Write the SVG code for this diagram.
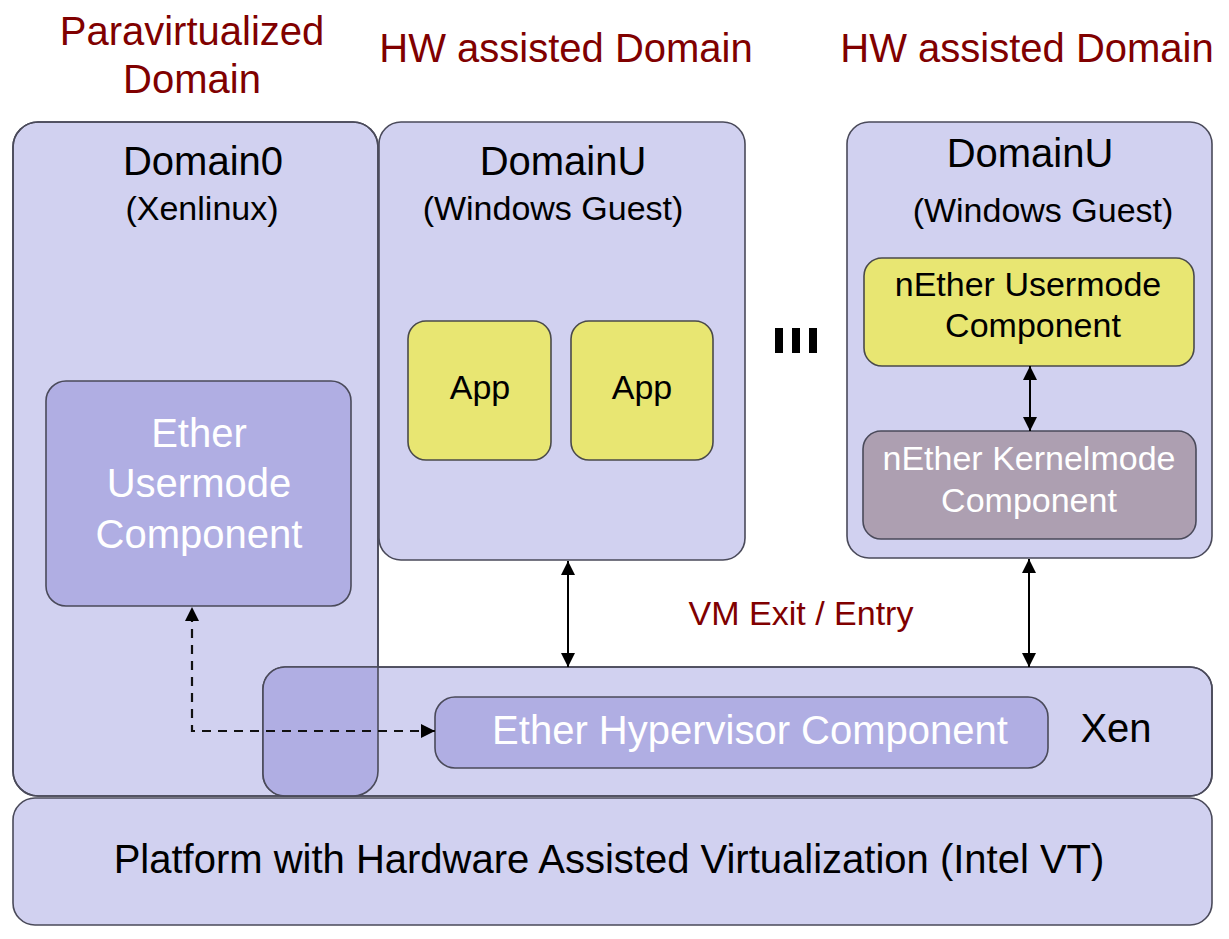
<svg xmlns="http://www.w3.org/2000/svg" width="1229" height="939" viewBox="0 0 1229 939">
<style>
.box{fill:#d1d1f0;stroke:#4a4a5a;stroke-width:1.6}
.dark{fill:#b0aee3;stroke:#4a4a5a;stroke-width:1.6}
.yel{fill:#e8e672;stroke:#4a4a4a;stroke-width:1.6}
.kern{fill:#ad9fb1;stroke:#4a4a5a;stroke-width:1.6}
.outline{fill:none;stroke:#4a4a5a;stroke-width:1.6}
text{font-family:"Liberation Sans",Arial,sans-serif;text-anchor:middle}
.title{font-size:40px;fill:#800000}
.big{font-size:40px;fill:#000}
.med{font-size:34px;fill:#000}
.white{fill:#ffffff}
.conn{stroke:#000;stroke-width:2;fill:none}
.dash{stroke:#111;stroke-width:2.2;fill:none;stroke-dasharray:9,7}
</style>
<defs>
<marker id="ah" viewBox="0 0 14 20" refX="14" refY="10" markerWidth="14" markerHeight="20" markerUnits="userSpaceOnUse" orient="auto-start-reverse">
<path d="M0,3 L14,10 L0,17 Z" fill="#000"/>
</marker>
<clipPath id="d0clip"><rect x="13" y="122" width="365" height="674" rx="25"/></clipPath>
</defs>

<g id="titles">
<text class="title" x="192" y="45">Paravirtualized</text>
<text class="title" x="192" y="93">Domain</text>
<text class="title" x="566" y="62">HW assisted Domain</text>
<text class="title" x="1027" y="62">HW assisted Domain</text>
</g>

<g id="domain0">
<rect class="box" x="13" y="122" width="365" height="674" rx="25"/>
<text class="big" x="203" y="175">Domain0</text>
<text class="med" x="202" y="220">(Xenlinux)</text>
</g>

<g id="ether-usermode">
<rect class="dark" x="46" y="381" width="305" height="225" rx="20"/>
<text class="big white" x="199" y="447">Ether</text>
<text class="big white" x="199" y="497">Usermode</text>
<text class="big white" x="199" y="548">Component</text>
</g>

<g id="domainU1">
<rect class="box" x="379" y="122" width="366" height="438" rx="22"/>
<text class="big" x="563" y="175">DomainU</text>
<text class="med" x="553" y="220">(Windows Guest)</text>
</g>

<g id="app1">
<rect class="yel" x="408" y="321" width="143" height="139" rx="18"/>
<text class="med" x="480" y="399">App</text>
</g>
<g id="app2">
<rect class="yel" x="571" y="321" width="142" height="139" rx="18"/>
<text class="med" x="642" y="399">App</text>
</g>

<g id="ellipsis">
<rect x="775" y="328" width="8" height="25" fill="#000"/>
<rect x="792" y="328" width="8" height="25" fill="#000"/>
<rect x="809" y="328" width="8" height="25" fill="#000"/>
</g>

<g id="domainU2">
<rect class="box" x="847" y="122" width="365" height="436" rx="22"/>
<text class="big" x="1030" y="167">DomainU</text>
<text class="med" x="1043" y="222">(Windows Guest)</text>
</g>

<g id="nether-user">
<rect class="yel" x="864" y="258" width="330" height="108" rx="18"/>
<text class="med" x="1028" y="296">nEther Usermode</text>
<text class="med" x="1033" y="337">Component</text>
</g>

<g id="nether-kernel">
<rect class="kern" x="863" y="431" width="333" height="108" rx="18"/>
<text class="med white" x="1029" y="470">nEther Kernelmode</text>
<text class="med white" x="1029" y="512">Component</text>
</g>

<g id="xen">
<rect class="box" x="263" y="667" width="949" height="129" rx="22"/>
<rect x="263" y="667" width="949" height="129" rx="22" fill="#b0aee3" clip-path="url(#d0clip)"/>
<rect class="outline" x="13" y="122" width="365" height="674" rx="25"/>
<rect class="outline" x="263" y="667" width="949" height="129" rx="22"/>
<text class="big" x="1116" y="742">Xen</text>
</g>

<g id="ether-hypervisor">
<rect class="dark" x="435" y="697" width="613" height="71" rx="20"/>
<text class="big white" x="750" y="744">Ether Hypervisor Component</text>
</g>

<g id="platform">
<rect class="box" x="13" y="798" width="1199" height="127" rx="22"/>
<text class="big" x="609" y="873">Platform with Hardware Assisted Virtualization (Intel VT)</text>
</g>

<g id="connectors">
<line class="conn" x1="568" y1="561" x2="568" y2="667" marker-start="url(#ah)" marker-end="url(#ah)"/>
<line class="conn" x1="1029" y1="559" x2="1029" y2="667" marker-start="url(#ah)" marker-end="url(#ah)"/>
<line class="conn" x1="1030" y1="366" x2="1030" y2="431" marker-start="url(#ah)" marker-end="url(#ah)"/>
<path class="dash" d="M435,731 L192,731 L192,607" marker-start="url(#ah)" marker-end="url(#ah)"/>
<text class="med" x="801" y="625" style="fill:#800000">VM Exit / Entry</text>
</g>
</svg>
